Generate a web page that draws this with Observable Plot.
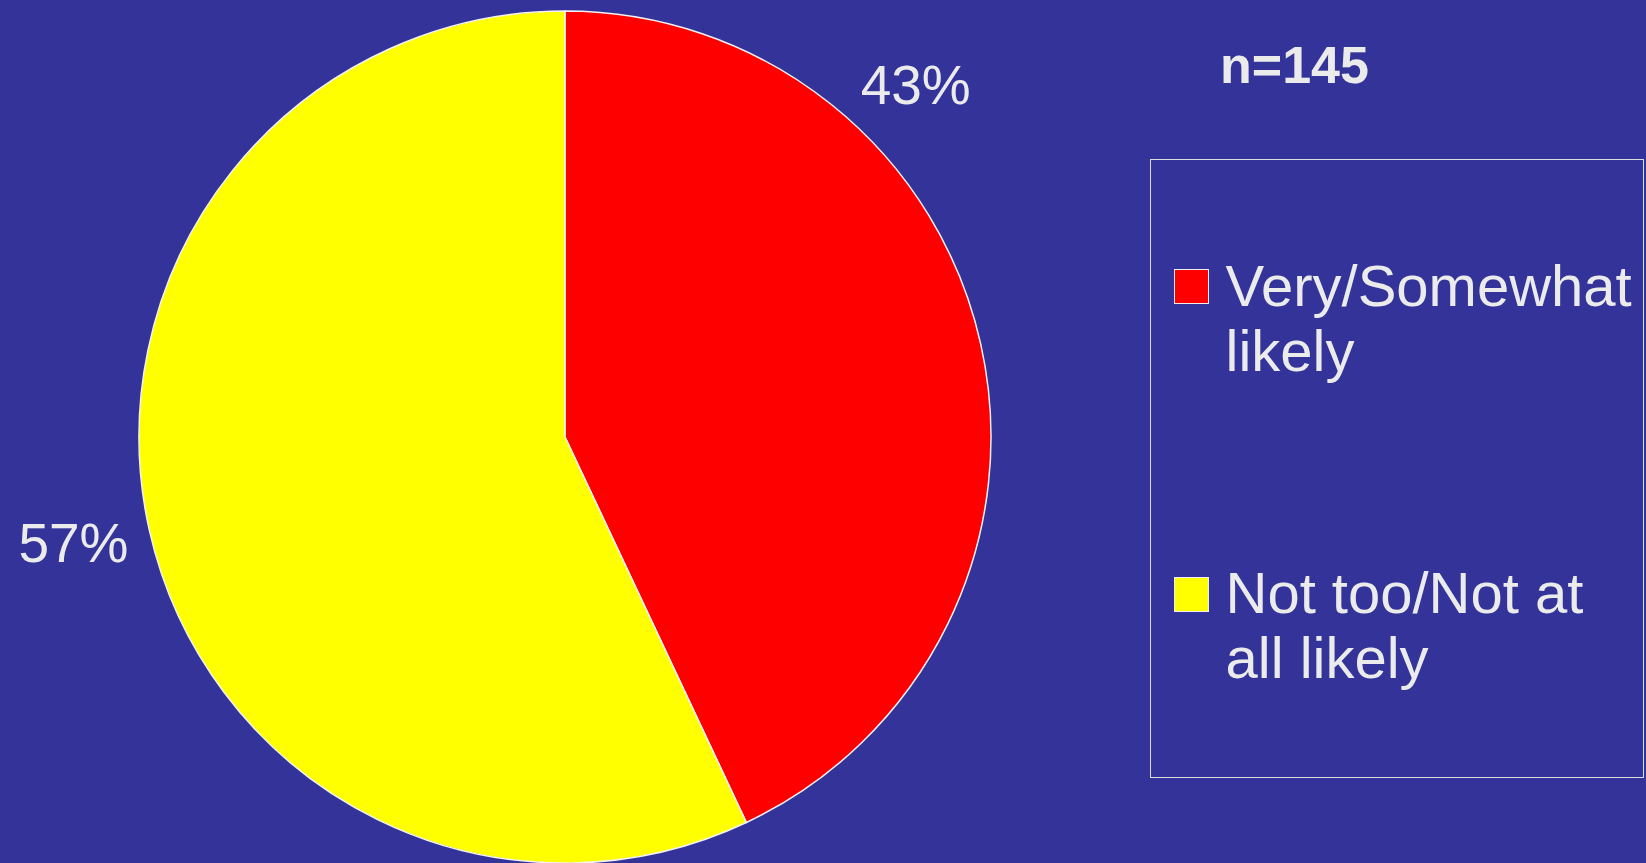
<!DOCTYPE html>
<html>
<head>
<meta charset="utf-8">
<script src="https://cdn.jsdelivr.net/npm/d3@7"></script>
<script src="https://cdn.jsdelivr.net/npm/@observablehq/plot@0.6"></script>
<style>
  html, body { margin: 0; padding: 0; background: #333399; width: 1646px; height: 863px; overflow: hidden;
    font-family: "Liberation Sans", Arial, sans-serif; color: #ebebeb; }
  #chart { position: absolute; left: 0; top: 0; }
  #n { position: absolute; left: 1220px; top: 39px; font-weight: bold; font-size: 52px; line-height: 52px; white-space: nowrap; }
  #legend { position: absolute; left: 1150px; top: 159px; width: 494px; height: 619px; box-sizing: border-box;
    border: 1.5px solid #dcdcdc; }
  .sw { position: absolute; width: 35px; height: 35px; box-sizing: border-box; border: 1px solid #eeeeee; }
  .lab { position: absolute; font-size: 58px; line-height: 65px; width: 420px; }
</style>
</head>
<body>
<div id="chart"></div>
<div id="n"></div>
<div id="legend"></div>
<script>
// ---- data ----
const categories = ["Very/Somewhat likely", "Not too/Not at all likely"];
const shares = [43, 57];
const colors = ["#ff0000", "#ffff00"];
const sampleSize = "n=145";

const data = categories.map((c, i) => ({category: c, share: shares[i]}));

// label anchors in data units (pie radius = 1)
const labelPos = [{x: 0.822, y: 0.824}, {x: -1.155, y: -0.251}];

function pieMark(index, scales) {
  const cx = scales.x(0), cy = scales.y(0);
  const r = Math.abs(scales.x(1) - scales.x(0));
  const arcs = d3.pie().sort(null).value(d => d.share)(data);
  const arc = d3.arc().innerRadius(0).outerRadius(r);
  const g = d3.create("svg:g").attr("transform", `translate(${cx},${cy})`);
  g.selectAll("path").data(arcs).join("path")
    .attr("d", arc)
    .attr("fill", d => scales.color(d.data.category))
    .attr("stroke", "#f2f2f2")
    .attr("stroke-width", 1.5)
    .attr("stroke-linejoin", "round");
  return g.node();
}

const chart = Plot.plot({
  width: 1100,
  height: 863,
  marginLeft: 139,
  marginRight: 109,
  marginTop: 11,
  marginBottom: 0,
  x: {domain: [-1, 1], axis: null},
  y: {domain: [-1, 1], axis: null},
  color: {domain: categories, range: colors},
  style: {background: "transparent", overflow: "visible"},
  marks: [
    Plot.dot(data, {x: () => 0, y: () => 0, fill: "category", r: 0}),
    pieMark,
    Plot.text(data, {
      x: (d, i) => labelPos[i].x,
      y: (d, i) => labelPos[i].y,
      text: d => `${d.share}%`,
      fontSize: 55,
      fontFamily: "Liberation Sans, Arial, sans-serif",
      fill: "#ebebeb",
      textAnchor: "middle"
    })
  ]
});
document.getElementById("chart").appendChild(chart);

document.getElementById("n").textContent = sampleSize;

// legend
const legend = document.getElementById("legend");
const legendTops = [{sw: 269, lab: 253}, {sw: 577, lab: 560}];
const boxLeft = 1150, boxTop = 159;
categories.forEach((c, i) => {
  const sw = document.createElement("div");
  sw.className = "sw";
  sw.style.left = (1174 - boxLeft - 1.5) + "px";
  sw.style.top = (legendTops[i].sw - boxTop - 1.5) + "px";
  sw.style.background = colors[i];
  legend.appendChild(sw);
  const lab = document.createElement("div");
  lab.className = "lab";
  lab.style.left = (1226 - boxLeft - 1.5) + "px";
  lab.style.top = (legendTops[i].lab - boxTop - 1.5) + "px";
  lab.textContent = c;
  legend.appendChild(lab);
});
</script>
</body>
</html>
